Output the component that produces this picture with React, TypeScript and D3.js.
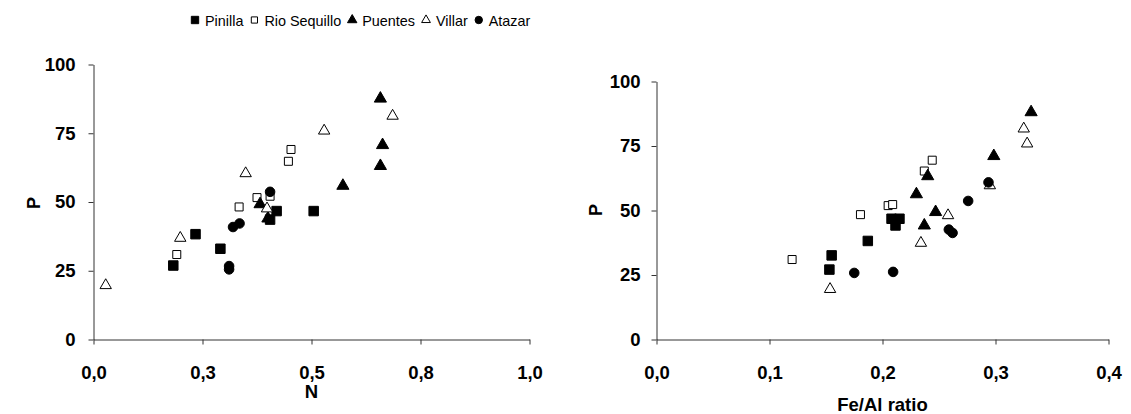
import * as d3 from 'd3';
import { useEffect, useRef } from 'react';

// series names in legend order
const seriesNames = ['Pinilla', 'Rio Sequillo', 'Puentes', 'Villar', 'Atazar'];

// left panel: N vs P
const pinillaN = [[0.183, 26.9], [0.234, 38.3], [0.291, 33.0], [0.405, 43.6], [0.420, 46.7], [0.505, 46.7]];
const rioN = [[0.191, 30.9], [0.334, 48.2], [0.375, 51.6], [0.405, 52.1], [0.447, 64.8], [0.453, 69.1]];
const puentesN = [[0.382, 49.2], [0.400, 44.0], [0.572, 55.9], [0.658, 63.1], [0.663, 70.7], [0.658, 87.6]];
const villarN = [[0.028, 19.7], [0.199, 36.9], [0.349, 60.4], [0.398, 47.6], [0.529, 75.9], [0.686, 81.3]];
const atazarN = [[0.311, 26.7], [0.311, 25.5], [0.320, 40.9], [0.335, 42.2], [0.405, 53.7]];

// right panel: Fe/Al ratio vs P
const pinillaFe = [[0.153, 27.1], [0.155, 32.6], [0.187, 38.2], [0.208, 46.8], [0.215, 46.8], [0.2115, 44.2]];
const rioFe = [[0.120, 31.0], [0.1805, 48.4], [0.205, 51.9], [0.209, 52.3], [0.237, 65.3], [0.244, 69.5]];
const puentesFe = [[0.237, 44.2], [0.230, 56.3], [0.247, 49.4], [0.240, 63.3], [0.2985, 71.1], [0.3315, 88.1]];
const villarFe = [[0.1536, 19.5], [0.234, 37.4], [0.258, 48.1], [0.295, 59.7], [0.328, 75.9], [0.325, 81.7]];
const atazarFe = [[0.175, 25.8], [0.2094, 26.2], [0.2587, 42.6], [0.262, 41.3], [0.2758, 53.7], [0.2938, 60.9]];

const yTicks = [0, 25, 50, 75, 100];
const xTicksN = [0, 0.25, 0.5, 0.75, 1.0];
const xTickLabelsN = ['0,0', '0,3', '0,5', '0,8', '1,0'];
const xTicksFe = [0, 0.1, 0.2, 0.3, 0.4];
const xTickLabelsFe = ['0,0', '0,1', '0,2', '0,3', '0,4'];

const shapes = [
  { type: d3.symbolSquare, size: 90, fill: '#000' },
  { type: d3.symbolSquare, size: 64, fill: '#fff' },
  { type: d3.symbolTriangle, size: 64, fill: '#000' },
  { type: d3.symbolTriangle, size: 56, fill: '#fff' },
  { type: d3.symbolCircle, size: 72, fill: '#000' },
];

const font = 'Liberation Sans, Arial, sans-serif';

export default function App() {
  const svgRef = useRef(null);

  useEffect(() => {
    drawChart(svgRef.current);
  }, [svgRef]);

  return (
    <svg ref={svgRef} width={1131} height={414}
      style={{ position: 'absolute', left: 0, top: 0, background: '#fff' }} />
  );
}

function drawPanel(svg, opts) {
  const xScale = d3.scaleLinear().domain([0, opts.xMax]).range(opts.xRange);
  const yScale = d3.scaleLinear().domain([0, 100]).range(opts.yRange);

  const xAxis = d3.axisBottom(xScale)
    .tickValues(opts.xTicks)
    .tickFormat((d, i) => opts.xLabels[i])
    .tickSize(5)
    .tickSizeOuter(0)
    .tickPadding(21);

  const yAxis = d3.axisLeft(yScale)
    .tickValues(yTicks)
    .tickSize(5)
    .tickSizeOuter(0)
    .tickPadding(opts.yPad);

  const gx = svg.append('g')
    .attr('transform', 'translate(0,' + opts.yRange[0] + ')')
    .call(xAxis);
  const gy = svg.append('g')
    .attr('transform', 'translate(' + opts.xRange[0] + ',0)')
    .call(yAxis);

  [gx, gy].forEach(g => {
    g.selectAll('path, line').attr('stroke', '#333');
    g.selectAll('text')
      .attr('font-family', font)
      .attr('font-size', 18.5)
      .attr('font-weight', 'bold')
      .attr('fill', '#000');
  });

  svg.append('text')
    .attr('transform', 'translate(' + opts.pPos[0] + ',' + opts.pPos[1] + ') rotate(-90)')
    .attr('text-anchor', 'middle')
    .attr('font-family', font)
    .attr('font-size', 18)
    .attr('font-weight', 'bold')
    .text('P');

  svg.append('text')
    .attr('x', opts.xTitlePos[0])
    .attr('y', opts.xTitlePos[1])
    .attr('text-anchor', 'middle')
    .attr('font-family', font)
    .attr('font-size', 18.5)
    .attr('font-weight', 'bold')
    .text(opts.xTitle);

  opts.series.forEach((data, i) => {
    const s = shapes[i];
    const sym = d3.symbol().type(s.type).size(s.size);
    svg.append('g')
      .selectAll('path')
      .data(data)
      .enter()
      .append('path')
      .attr('transform', d => 'translate(' + xScale(d[0]) + ',' + yScale(d[1]) + ')')
      .attr('d', sym)
      .attr('fill', s.fill)
      .attr('stroke', '#000')
      .attr('stroke-width', 1);
  });
}

function drawChart(svgEl) {
  const svg = d3.select(svgEl);
  svg.selectAll('*').remove();

  drawPanel(svg, {
    xMax: 1.0,
    xRange: [93.5, 529.5],
    yRange: [339.5, 64.5],
    xTicks: xTicksN,
    xLabels: xTickLabelsN,
    yPad: 13,
    pPos: [40, 203],
    xTitle: 'N',
    xTitlePos: [311.5, 398],
    series: [pinillaN, rioN, puentesN, villarN, atazarN],
  });

  drawPanel(svg, {
    xMax: 0.4,
    xRange: [656.5, 1108.5],
    yRange: [339.5, 81.5],
    xTicks: xTicksFe,
    xLabels: xTickLabelsFe,
    yPad: 11,
    pPos: [602, 210],
    xTitle: 'Fe/Al ratio',
    xTitlePos: [882.5, 411],
    series: [pinillaFe, rioFe, puentesFe, villarFe, atazarFe],
  });

  // legend
  const legend = svg.append('g').attr('transform', 'translate(195,20)');
  let x = 0;
  seriesNames.forEach((name, i) => {
    const s = shapes[i];
    const g = legend.append('g').attr('transform', 'translate(' + x + ',0)');
    g.append('path')
      .attr('d', d3.symbol().type(s.type).size(s.size * 0.6)())
      .attr('fill', s.fill)
      .attr('stroke', '#000')
      .attr('stroke-width', 1);
    const t = g.append('text')
      .attr('x', 10)
      .attr('y', 5.5)
      .attr('font-family', font)
      .attr('font-size', 14.4)
      .text(name);
    x += 10 + t.node().getComputedTextLength() + 11;
  });
}
